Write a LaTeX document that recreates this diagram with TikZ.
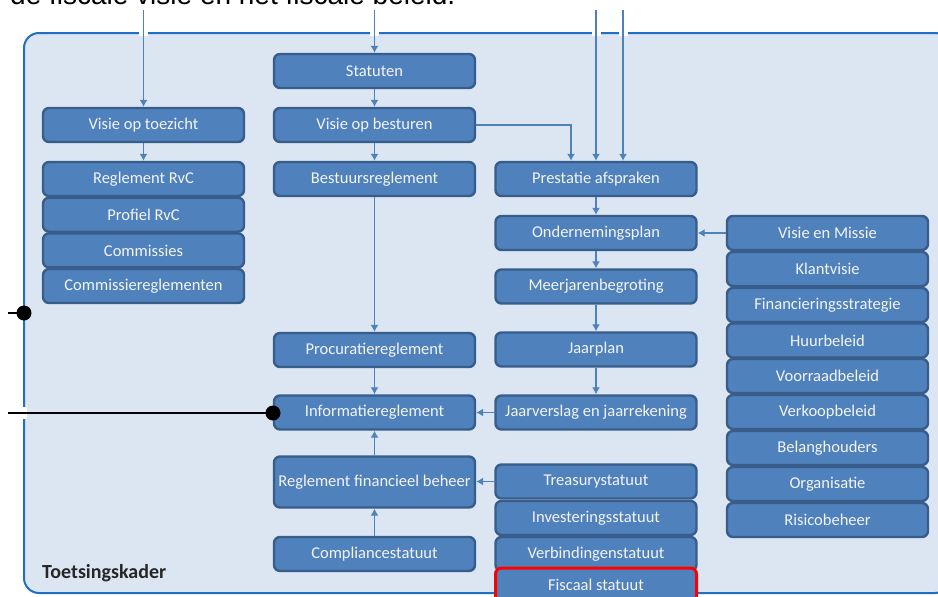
\documentclass[tikz,border=0pt]{standalone}
\usepackage{fontspec}
\setmainfont{Carlito}
\newfontfamily\kopfont{Liberation Sans}
\usetikzlibrary{arrows.meta}
\definecolor{blokblauw}{HTML}{4F81BD}
\definecolor{randblauw}{HTML}{385D8A}
\definecolor{kaderblauw}{HTML}{1F6FC5}
\definecolor{vlak}{HTML}{DCE6F2}
\definecolor{tekstwit}{HTML}{F4F4F4}
\tikzset{
  docnode/.style = {align=center, inner sep=0pt, text centered,
    font=\fontsize{16.5}{17}\selectfont},
  bx/.style = {docnode, rectangle, rounded corners=6pt, text=tekstwit,
    draw=randblauw, fill=blokblauw, line width=2.4pt,
    minimum width=201pt, minimum height=34pt},% blue box with white text
  rd/.style = {bx, draw=red, line width=3pt},% box with red edge
  stip/.style = {circle, fill=black, inner sep=0pt, minimum size=15pt},% black dot
  pijl/.style = {-{Latex[length=7pt,width=8pt]}, blokblauw, line width=1.2pt}
}

\begin{document}
\begin{tikzpicture}[x=1pt,y=-1pt]
\useasboundingbox (0,0) rectangle (938,597);
% heading, cut off at the top
\node[anchor=base west, inner sep=0pt, font=\kopfont\fontsize{28}{30}\selectfont] (kop) at (10,5) {de fiscale visie en het fiscale beleid.};
% frame
\draw[kaderblauw, fill=vlak, line width=2pt, rounded corners=15pt] (24,33) rectangle (950,593);
\foreach \x in {143.5,374.5,596,623} \fill[white] (\x-4.5,30) rectangle (\x+4.5,36);
\fill[white] (21,407) rectangle (27,419);
\node[anchor=base west, inner sep=0pt, text=black!85, font=\bfseries\fontsize{20}{21}\selectfont] (tk) at (42,578) {Toetsingskader};

% toezicht
\node [bx] (vot) at (143.5,125) {Visie op toezicht};
\node [bx] (rrvc) at (143.5,179) {Reglement RvC};
\node [bx] (prvc) at (143.5,214.7) {Profiel RvC};
\node [bx] (com) at (143.5,250.4) {Commissies};
\node [bx] (comr) at (143.5,286) {Commissiereglementen};
% besturen
\node [bx] (st) at (374.5,71) {Statuten};
\node [bx] (vob) at (374.5,125) {Visie op besturen};
\node [bx] (br) at (374.5,179) {Bestuursreglement};
\node [bx] (pr) at (374.5,350) {Procuratiereglement};
\node [bx] (ir) at (374.5,412.5) {Informatiereglement};
\node [bx, minimum height=51pt] (rfb) at (374.5,482) {Reglement financieel beheer};
\node [bx] (cs) at (374.5,554) {Compliancestatuut};
% planning
\node [bx] (pa) at (596,179) {Prestatie afspraken};
\node [bx] (op) at (596,233) {Ondernemingsplan};
\node [bx] (mjb) at (596,286.5) {Meerjarenbegroting};
\node [bx] (jp) at (596,349.5) {Jaarplan};
\node [bx] (jv) at (596,412.5) {Jaarverslag en jaarrekening};
\node [bx] (ts) at (596,481.5) {Treasurystatuut};
\node [bx] (is) at (596,518) {Investeringsstatuut};
\node [bx] (vs) at (596,554) {Verbindingenstatuut};
\node [rd] (fs) at (596,585) {Fiscaal statuut};
% beleid
\node [bx] (vem) at (827.5,233) {Visie en Missie};
\node [bx] (kv) at (827.5,269) {Klantvisie};
\node [bx] (fst) at (827.5,305) {Financieringsstrategie};
\node [bx] (hb) at (827.5,340.5) {Huurbeleid};
\node [bx] (vrb) at (827.5,376) {Voorraadbeleid};
\node [bx] (vkb) at (827.5,412) {Verkoopbeleid};
\node [bx] (bh) at (827.5,448) {Belanghouders};
\node [bx] (org) at (827.5,484) {Organisatie};
\node [bx] (rb) at (827.5,520) {Risicobeheer};

% lines from outside
\coordinate (in1) at (143.5,10);
\coordinate (in2) at (374.5,10);
\coordinate (in3) at (596,10);
\coordinate (in4) at (623,10);
\coordinate (l1) at (8,313);
\coordinate (l2) at (8,413);
\node [stip] (d1) at (24,313) {};
\node [stip] (d2) at (273,413) {};
\draw[line width=2.5pt] (l1) -- (d1.center);
\draw[line width=2.5pt] (l2) -- (d2.center);

\draw[pijl] (in1) -- (vot);
\draw[pijl] (in2) -- (st);
\draw[pijl] (st) -- (vob);
\draw[pijl] (vot) -- (rrvc);
\draw[pijl] (vob) -- (br);
\draw[pijl] (br) -- (pr);
\draw[pijl] (pr) -- (ir);
\draw[pijl] (rfb) -- (ir);
\draw[pijl] (cs) -- (rfb);
\draw[pijl] (vob.east) -| ([xshift=-25pt]pa.north);
\draw[pijl] (in3) -- (pa);
\draw[pijl] (in4) -- (in4 |- pa.north);
\draw[pijl] (pa) -- (op);
\draw[pijl] (op) -- (mjb);
\draw[pijl] (mjb) -- (jp);
\draw[pijl] (jp) -- (jv);
\draw[pijl] (jv) -- (ir);
\draw[pijl] (ts.west) -- (ts.west -| rfb.east);
\draw[pijl] (vem) -- (op);
\end{tikzpicture}
\end{document}
